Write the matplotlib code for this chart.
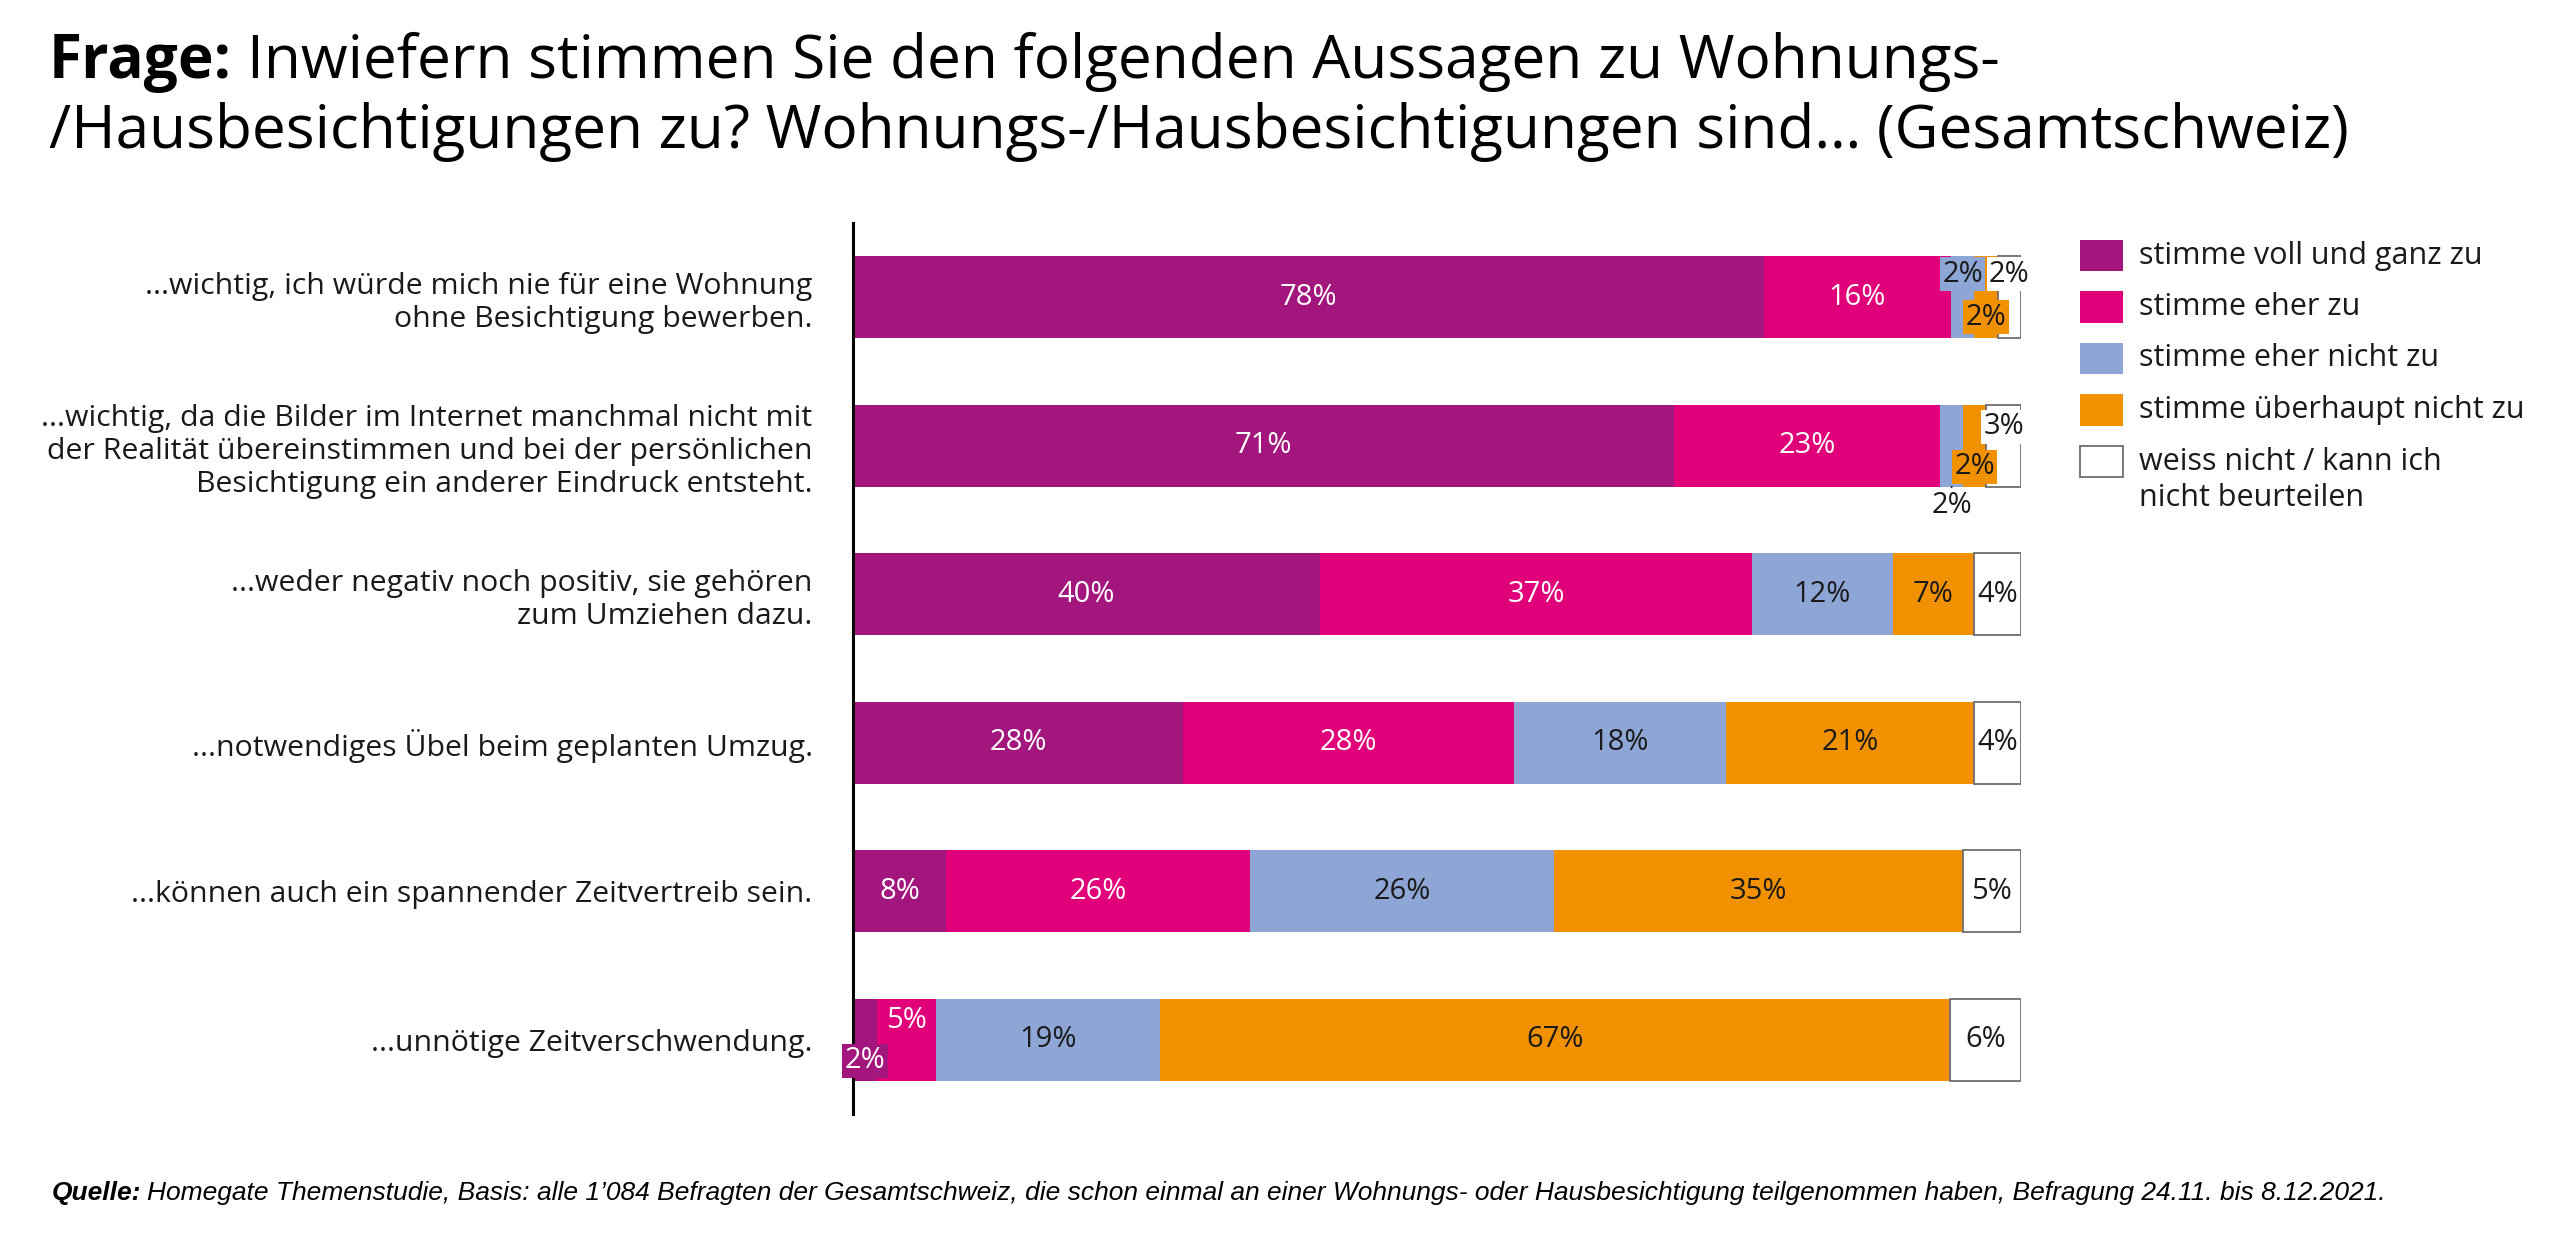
import matplotlib
matplotlib.use("Agg")
import matplotlib.pyplot as plt
from matplotlib.patches import Rectangle
import numpy as np

# ---------------- data ----------------
categories = [
    "...wichtig, ich würde mich nie für eine Wohnung\nohne Besichtigung bewerben.",
    "...wichtig, da die Bilder im Internet manchmal nicht mit\nder Realität übereinstimmen und bei der persönlichen\nBesichtigung ein anderer Eindruck entsteht.",
    "...weder negativ noch positiv, sie gehören\nzum Umziehen dazu.",
    "...notwendiges Übel beim geplanten Umzug.",
    "...können auch ein spannender Zeitvertreib sein.",
    "...unnötige Zeitverschwendung.",
]
series_names = [
    "stimme voll und ganz zu",
    "stimme eher zu",
    "stimme eher nicht zu",
    "stimme überhaupt nicht zu",
    "weiss nicht / kann ich\nnicht beurteilen",
]
voll_und_ganz = [78, 71, 40, 28, 8, 2]
eher_zu = [16, 23, 37, 28, 26, 5]
eher_nicht = [2, 2, 12, 18, 26, 19]
ueberhaupt_nicht = [2, 2, 7, 21, 35, 67]
weiss_nicht = [2, 3, 4, 4, 5, 6]

title_bold = "Frage:"
title_line1 = "Inwiefern stimmen Sie den folgenden Aussagen zu Wohnungs-"
title_line2 = "/Hausbesichtigungen zu? Wohnungs-/Hausbesichtigungen sind… (Gesamtschweiz)"
source_bold = "Quelle:"
source_text = ("Homegate Themenstudie, Basis: alle 1’084 Befragten der Gesamtschweiz, die schon einmal an einer "
               "Wohnungs- oder Hausbesichtigung teilgenommen haben, Befragung 24.11. bis 8.12.2021.")

# ---------------- style ----------------
colors = ["#A3167E", "#E2007A", "#8EA6D6", "#F29100", "#FFFFFF"]
edgecolors = ["none", "none", "none", "none", "#6E6E6E"]
text_colors = ["white", "white", "#1A1A1A", "#1A1A1A", "#1A1A1A"]
DARK = "#1A1A1A"
FONT = "Open Sans"

W, H = 2560, 1254
fig = plt.figure(figsize=(W / 100, H / 100), dpi=100)
fig.patch.set_facecolor("white")

def fx(px):
    return px / W

def fy(py):
    return 1 - py / H

ax = fig.add_axes([fx(853), fy(1114), 1168 / W, 891 / H])

values = np.array([voll_und_ganz, eher_zu, eher_nicht, ueberhaupt_nicht, weiss_nicht], dtype=float)
shares = values / values.sum(axis=0) * 100
ypos = np.arange(len(categories))
bar_h = 0.555

lefts = np.zeros(len(categories))
for i in range(len(series_names)):
    ax.barh(ypos, shares[i], left=lefts, height=bar_h, color=colors[i],
            edgecolor=edgecolors[i], linewidth=1.3 if i == 4 else 0, zorder=2)
    lefts += shares[i]

ax.set_xlim(0, 100)
ax.set_ylim(len(categories) - 0.5, -0.5)
for s in ["top", "right", "bottom"]:
    ax.spines[s].set_visible(False)
ax.spines["left"].set_linewidth(2.2)
ax.spines["left"].set_color("black")
ax.spines["left"].set_zorder(5)
ax.set_xticks([])
ax.set_yticks(ypos)
ax.set_yticklabels(categories, fontsize=21.8, family=FONT, color=DARK, linespacing=1.2)
ax.tick_params(axis="y", length=0, pad=29)

# label placement tweaks (pixel offsets, +dy = downwards)
PX = 0.72  # points per pixel at 100 dpi
tweaks = {
    (0, 2): dict(dy=-23, box=True),
    (0, 3): dict(dy=20, box=True),
    (0, 4): dict(dy=-23, box=True),
    (1, 2): dict(dy=60, leader=True),
    (1, 3): dict(dy=21, box=True),
    (1, 4): dict(dy=-19, box=True),
    (5, 0): dict(dy=21, box=True),
    (5, 1): dict(dy=-19),
}

lefts = np.zeros(len(categories))
for i in range(len(series_names)):
    for r in range(len(categories)):
        center = lefts[r] + shares[i][r] / 2
        label = f"{int(values[i][r])}%"
        tw = tweaks.get((r, i), {})
        dy = tw.get("dy", 0)
        kw = {}
        if tw.get("box"):
            kw["bbox"] = dict(boxstyle="square,pad=0.08", facecolor=colors[i], edgecolor="none")
        if tw.get("leader"):
            kw["arrowprops"] = dict(arrowstyle="-", color=DARK, lw=1.3, shrinkA=1, shrinkB=0)
            xy = (center, r + bar_h / 2)
            off = (0, -(dy - 41) * PX)
        else:
            xy = (center, r)
            off = (0, -dy * PX)
        ax.annotate(label, xy=xy, xytext=off, textcoords="offset points",
                    ha="center", va="center", fontsize=21, family=FONT,
                    color=text_colors[i], zorder=6, **kw)
    lefts += shares[i]

# ---------------- legend (manual) ----------------
leg_rows = [256, 307, 358.5, 410, 461.5]
for i, name in enumerate(series_names):
    cy = leg_rows[i]
    fig.patches.append(Rectangle((fx(2080), fy(cy + 15.5)), 43 / W, 31 / H,
                                 transform=fig.transFigure, facecolor=colors[i],
                                 edgecolor="#6E6E6E" if i == 4 else colors[i],
                                 linewidth=1.3 if i == 4 else 0))
    if "\n" in name:
        fig.text(fx(2139), fy(cy + 18.5), name, fontsize=22, family=FONT, color=DARK,
                 ha="left", va="center", linespacing=1.25)
    else:
        fig.text(fx(2139), fy(cy), name, fontsize=22, family=FONT, color=DARK,
                 ha="left", va="center")

# ---------------- title ----------------
renderer = fig.canvas.get_renderer()
t_b = fig.text(fx(49), fy(78), title_bold, fontsize=43.5, fontweight="bold", family=FONT,
               color="black", va="baseline", ha="left")
bb = t_b.get_window_extent(renderer)
fig.text((bb.x1 + 15) / W, fy(78), title_line1, fontsize=43.5, family=FONT,
         color="black", va="baseline", ha="left")
fig.text(fx(49), fy(148), title_line2, fontsize=43.5, family=FONT,
         color="black", va="baseline", ha="left")

# ---------------- source ----------------
s_b = fig.text(fx(52), fy(1200), source_bold, fontsize=19, fontweight="bold", style="italic",
               family="Liberation Sans", color="black", va="baseline", ha="left")
bb2 = s_b.get_window_extent(renderer)
fig.text((bb2.x1 + 6) / W, fy(1200), source_text, fontsize=19, style="italic",
         family="Liberation Sans", color="black", va="baseline", ha="left")

fig.savefig("out.png", dpi=100, facecolor="white")
